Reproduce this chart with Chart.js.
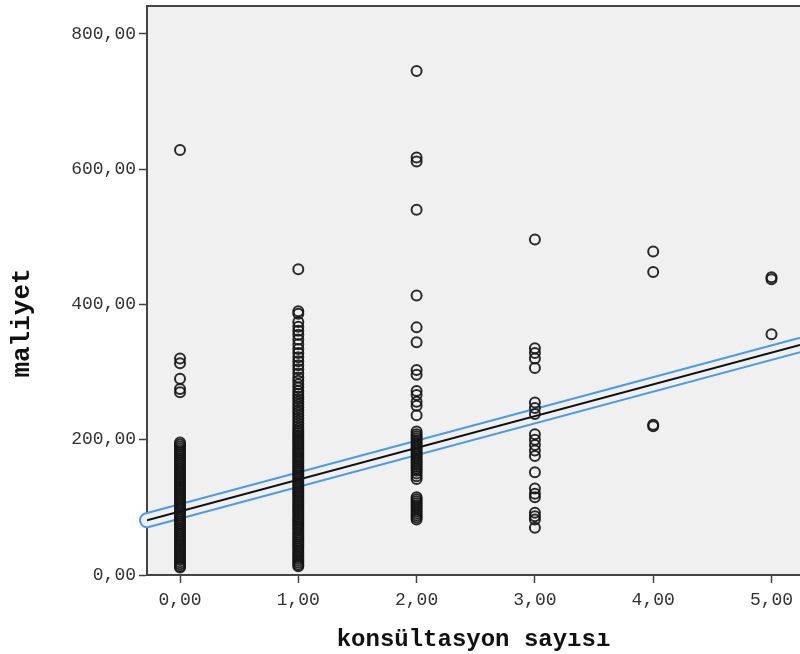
<!DOCTYPE html>
<html>
<head>
<meta charset="utf-8">
<script src="https://cdn.jsdelivr.net/npm/chart.js@4.4.1/dist/chart.umd.min.js"></script>
<style>
  html, body { margin: 0; padding: 0; background: #ffffff; }
  #chart { display: block; }
</style>
</head>
<body>
<canvas id="chart" width="800" height="654"></canvas>
<script>
// données
var consultations = [0, 1, 2, 3, 4, 5];

var cost0 = [628, 320, 313, 290, 275, 270, 196, 193, 190, 187, 184, 181, 178, 175, 172, 169, 166, 163, 160, 157, 154, 151, 148, 145, 142, 139, 136, 133, 130, 127, 124, 121, 118, 115, 112, 109, 106, 103, 100, 97, 94, 91, 88, 85, 82, 79, 76, 73, 70, 67, 64, 61, 58, 55, 52, 49, 46, 43, 40, 37, 34, 31, 28, 25, 22, 19, 16, 13, 11];
var cost1 = [452, 390, 386, 374, 367, 361, 355, 348, 341, 334, 328, 322, 316, 310, 304, 298, 292, 287, 282, 277, 272, 268, 264, 260, 256, 252, 248, 244, 240, 236, 232, 228, 224, 220, 216, 213, 210, 207, 204, 201, 198, 195, 192, 189, 186, 183, 180, 177, 174, 171, 168, 165, 162, 159, 156, 153, 150, 147, 144, 141, 138, 135, 132, 129, 126, 123, 120, 117, 114, 111, 108, 105, 102, 99, 96, 93, 90, 87, 84, 81, 78, 75, 72, 69, 66, 63, 60, 57, 54, 51, 48, 45, 42, 39, 36, 33, 30, 27, 24, 21, 18, 15, 13];
var cost2 = [745, 617, 611, 540, 413, 366, 344, 303, 296, 272, 266, 256, 250, 236, 212, 208, 205, 202, 199, 196, 193, 190, 187, 184, 181, 178, 175, 172, 169, 166, 163, 160, 157, 154, 150, 146, 142, 115, 112, 109, 106, 103, 100, 97, 94, 91, 88, 85, 82];
var cost3 = [496, 335, 328, 320, 306, 255, 247, 238, 208, 200, 192, 184, 176, 152, 128, 120, 115, 92, 87, 82, 70];
var cost4 = [478, 448, 222, 220];
var cost5 = [440, 437, 356];
var costs = [cost0, cost1, cost2, cost3, cost4, cost5];

// droite d'ajustement (extrémités lues)
var fitX = [-0.279, 5.241];
var fitY = [81, 340];

var xTicks = [0, 1, 2, 3, 4, 5];
var yTicks = [0, 200, 400, 600, 800];

var xTitle = 'konsültasyon sayısı';
var yTitle = 'maliyet';

var monoFont = "'Liberation Mono', 'Courier New', monospace";
var frameColor = '#444444';
var fitBlue = '#4a9be6';
var plotGray = '#f0f0f0';

// construire les points
function buildPoints() {
    var pts = [];
    for (var i = 0; i < consultations.length; i++) {
        for (var j = 0; j < costs[i].length; j++) {
            pts.push({ x: consultations[i], y: costs[i][j] });
        }
    }
    return pts;
}

function buildFit() {
    var pts = [];
    for (var i = 0; i < fitX.length; i++) {
        pts.push({ x: fitX[i], y: fitY[i] });
    }
    return pts;
}

function formatComma(v) {
    return Number(v).toFixed(2).replace('.', ',');
}

// fond gris, cadre du haut et titre vertical
const plotFrame = {
    id: 'plotFrame',
    beforeDraw: function(chart) {
        var ctx = chart.ctx;
        var a = chart.chartArea;
        ctx.save();
        ctx.fillStyle = plotGray;
        ctx.fillRect(a.left, a.top, a.right - a.left, a.bottom - a.top);
        ctx.restore();
    },
    afterDraw: function(chart) {
        var ctx = chart.ctx;
        var a = chart.chartArea;
        ctx.save();
        ctx.strokeStyle = frameColor;
        ctx.lineWidth = 2;
        ctx.beginPath();
        ctx.moveTo(a.left - 1, a.top);
        ctx.lineTo(a.right, a.top);
        ctx.stroke();

        ctx.translate(22, 323);
        ctx.rotate(-Math.PI / 2);
        ctx.fillStyle = '#111111';
        ctx.font = 'bold 26px ' + monoFont;
        ctx.textAlign = 'center';
        ctx.textBaseline = 'middle';
        ctx.fillText(yTitle, 0, 0);
        ctx.restore();
    }
};

var fitData = buildFit();

const config = {
    type: 'scatter',
    data: {
        datasets: [
            {
                label: 'maliyet',
                data: buildPoints(),
                order: 0,
                pointStyle: 'circle',
                pointRadius: 5,
                pointHoverRadius: 5,
                borderWidth: 2,
                borderColor: 'rgba(20,20,20,0.9)',
                backgroundColor: 'rgba(0,0,0,0)'
            },
            {
                type: 'line',
                label: 'fit-blue',
                data: fitData,
                order: 3,
                clip: false,
                borderColor: fitBlue,
                borderWidth: 16,
                borderCapStyle: 'round',
                pointRadius: 0,
                fill: false
            },
            {
                type: 'line',
                label: 'fit-inner',
                data: fitData,
                order: 2,
                clip: false,
                borderColor: plotGray,
                borderWidth: 12,
                borderCapStyle: 'round',
                pointRadius: 0,
                fill: false
            },
            {
                type: 'line',
                label: 'fit-black',
                data: fitData,
                order: 1,
                borderColor: '#111111',
                borderWidth: 2,
                pointRadius: 0,
                fill: false
            }
        ]
    },
    options: {
        responsive: false,
        animation: false,
        events: [],
        layout: {
            autoPadding: false,
            padding: { top: 6, right: 0, bottom: 0, left: 0 }
        },
        plugins: {
            legend: { display: false },
            tooltip: { enabled: false }
        },
        scales: {
            x: {
                type: 'linear',
                min: fitX[0],
                max: fitX[1],
                afterBuildTicks: function(scale) {
                    scale.ticks = xTicks.map(function(v) { return { value: v }; });
                },
                afterFit: function(scale) {
                    scale.height = 79;
                    scale.paddingLeft = 0;
                    scale.paddingRight = 0;
                },
                border: { display: true, color: frameColor, width: 2 },
                grid: {
                    display: true,
                    drawOnChartArea: false,
                    drawTicks: true,
                    tickLength: 8,
                    tickWidth: 1.5,
                    color: frameColor
                },
                ticks: {
                    padding: 6,
                    maxRotation: 0,
                    color: '#333333',
                    font: { family: monoFont, size: 18 },
                    callback: function(v) { return formatComma(v); }
                },
                title: {
                    display: true,
                    text: xTitle,
                    color: '#111111',
                    font: { family: monoFont, size: 24, weight: 'bold' },
                    padding: { top: 10, bottom: 0 }
                }
            },
            y: {
                type: 'linear',
                min: 0,
                max: 841,
                afterBuildTicks: function(scale) {
                    scale.ticks = yTicks.map(function(v) { return { value: v }; });
                },
                afterFit: function(scale) {
                    scale.width = 147;
                    scale.paddingTop = 0;
                    scale.paddingBottom = 0;
                },
                border: { display: true, color: frameColor, width: 2 },
                grid: {
                    display: true,
                    drawOnChartArea: false,
                    drawTicks: true,
                    tickLength: 8,
                    tickWidth: 1.5,
                    color: frameColor
                },
                ticks: {
                    padding: 3,
                    color: '#333333',
                    font: { family: monoFont, size: 18 },
                    callback: function(v) { return formatComma(v); }
                }
            }
        }
    },
    plugins: [plotFrame]
};

const ctx = document.getElementById('chart');
window.myScatter = new Chart(ctx, config);
</script>
</body>
</html>
